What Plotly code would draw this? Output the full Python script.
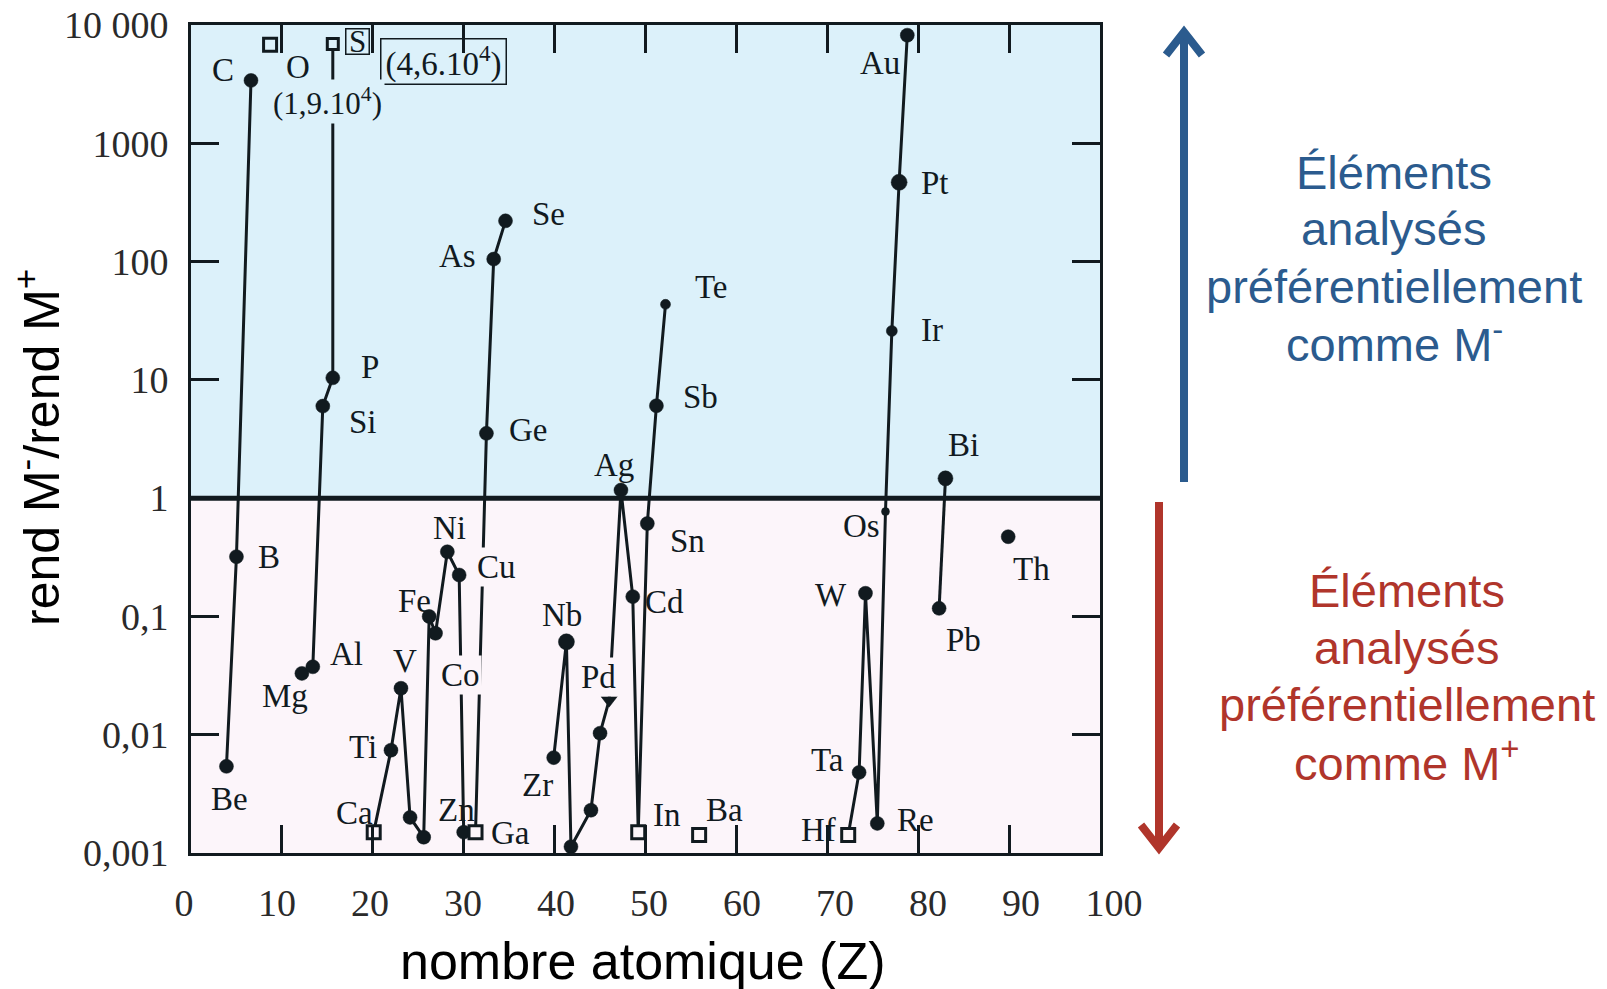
import numpy as np
import plotly.graph_objects as go

# ------------------------------------------------------------------
# DATA  (Z as plotted, ratio = rend M- / rend M+)
# ------------------------------------------------------------------
light_el = ["Be", "B", "C"]
light_z = [3.9, 5.0, 6.6]
light_ratio = [0.0054, 0.32, 3400]

oxygen_el = ["O"]
oxygen_z = [8.7]
oxygen_ratio = [6800]

p3_el = ["Mg", "Al", "Si", "P", "S"]
p3_z = [12.2, 13.4, 14.5, 15.6, 15.6]
p3_ratio = [0.033, 0.0375, 6.0, 10.4, 6900]

p4_el = ["Ca", "Ti", "V", "Cr", "Mn", "Fe", "Co", "Ni", "Cu", "Zn", "Ga", "Ge", "As", "Se"]
p4_z = [20.1, 22.0, 23.1, 24.1, 25.6, 26.2, 26.9, 28.2, 29.5, 30.0, 31.3, 32.5, 33.3, 34.6]
p4_ratio = [0.0015, 0.0074, 0.0247, 0.0020, 0.00136, 0.100, 0.072, 0.352, 0.224,
            0.0015, 0.0015, 3.53, 105, 221]

p5_el = ["Zr", "Nb", "Mo", "Ru", "Rh", "Pd", "Ag", "Cd", "In", "Sn", "Sb", "Te"]
p5_z = [39.9, 41.3, 41.8, 44.0, 45.0, 46.0, 47.3, 48.6, 49.2, 50.2, 51.2, 52.2]
p5_ratio = [0.0064, 0.061, 0.00113, 0.0023, 0.0103, 0.0196, 1.17, 0.147, 0.0015,
            0.61, 6.04, 43.5]

barium_el = ["Ba"]
barium_z = [55.9]
barium_ratio = [0.00142]

p6_el = ["Hf", "Ta", "W", "Re", "Os", "Ir", "Pt", "Au"]
p6_z = [72.3, 73.5, 74.2, 75.5, 76.4, 77.1, 77.9, 78.8]
p6_ratio = [0.00142, 0.0048, 0.157, 0.00178, 0.77, 25.9, 468, 8200]

pb_el = ["Pb", "Bi"]
pb_z = [82.3, 83.0]
pb_ratio = [0.117, 1.47]

th_el = ["Th"]
th_z = [89.9]
th_ratio = [0.472]

limit_el = {"O", "S", "Ca", "Ga", "In", "Ba", "Hf"}   # open squares
flag_el = {"Pd"}
unlabelled_el = {"Cr", "Mn", "Mo", "Ru", "Rh"}

x_tickvals = [0, 10, 20, 30, 40, 50, 60, 70, 80, 90, 100]
y_tickvals = [0.001, 0.01, 0.1, 1, 10, 100, 1000, 10000]
y_ticktext = ["0,001", "0,01", "0,1", "1", "10", "100", "1000", "10 000"]

offscale_O = "(1,9.10<sup>4</sup>)"
offscale_S = "(4,6.10<sup>4</sup>)"

# ------------------------------------------------------------------
# STYLE
# ------------------------------------------------------------------
W, H = 1607, 989
PL, PR, PT, PB = 191, 1100, 25, 853       # plot area in px
INK = "#111a1f"
BLUE_BG = "#dcf1fa"
PINK_BG = "#fcf5fa"
BLUE = "#2b5b8e"
RED = "#b0352b"
SERIF = "Liberation Serif"
SANS = "Liberation Sans"
LABEL_SIZE = 33

size_override = {"Te": 10, "Os": 8, "Ir": 11, "Pt": 16, "Nb": 16, "Bi": 15}

# label offsets in px (dx right, dy up)
label_off = {
    "Be": (3, -33), "B": (33, 0), "C": (-28, 10), "O": (28, -22),
    "Mg": (-17, -23), "Al": (34, 13), "Si": (40, -16), "P": (37, 11),
    "Ca": (-19, 19), "Ti": (-28, 3), "V": (4, 27), "Fe": (-15, 15),
    "Co": (25, -42), "Ni": (2, 24), "Cu": (37, 8), "Zn": (-7, 22),
    "Ga": (35, -1), "Ge": (42, 3), "As": (-36, 3), "Se": (43, 7),
    "Zr": (-16, -27), "Nb": (-4, 27), "Pd": (-11, 23), "Ag": (-7, 25),
    "Cd": (32, -5), "In": (29, 17), "Sn": (40, -17), "Sb": (44, 9),
    "Te": (46, 17), "Ba": (25, 25), "Hf": (-30, 5), "Ta": (-32, 12),
    "W": (-34, -2), "Re": (38, 3), "Os": (-24, -14), "Ir": (40, 1),
    "Pt": (36, -1), "Au": (-27, -28), "Pb": (24, -32), "Bi": (18, 33),
    "Th": (23, -32),
}
masking_labels = {"Co", "Cu", "Pd"}


def px(x):
    return x / W


def py(y):
    return 1 - y / H


groups = [
    (light_el, light_z, light_ratio, "lines+markers"),
    (oxygen_el, oxygen_z, oxygen_ratio, "markers"),
    (p3_el, p3_z, p3_ratio, "lines+markers"),
    (p4_el, p4_z, p4_ratio, "lines+markers"),
    (p5_el, p5_z, p5_ratio, "lines+markers"),
    (barium_el, barium_z, barium_ratio, "markers"),
    (p6_el, p6_z, p6_ratio, "lines+markers"),
    (pb_el, pb_z, pb_ratio, "lines+markers"),
    (th_el, th_z, th_ratio, "markers"),
]

fig = go.Figure()

annotations = []
for els, zs, rs, mode in groups:
    symbols, sizes, colors, lws = [], [], [], []
    for e, r in zip(els, rs):
        if e in limit_el:
            symbols.append("square")
            sizes.append(13 if e != "S" else 11)
            colors.append(BLUE_BG if r > 1 else PINK_BG)
            lws.append(3)
        elif e in flag_el:
            symbols.append("triangle-down")
            sizes.append(14)
            colors.append(INK)
            lws.append(0.5)
        else:
            symbols.append("circle")
            sizes.append(size_override.get(e, 14))
            colors.append(INK)
            lws.append(0.5)
    fig.add_trace(go.Scatter(
        x=zs, y=rs, mode=mode, text=els, showlegend=False,
        line=dict(color=INK, width=3),
        marker=dict(symbol=symbols, size=sizes, color=colors, opacity=1,
                    line=dict(color=INK, width=lws)),
        hovertemplate="%{text}: Z=%{x}, %{y}<extra></extra>",
    ))
    for e, z, r in zip(els, zs, rs):
        if e in unlabelled_el or e not in label_off:
            continue
        dx, dy = label_off[e]
        ann = dict(x=z, y=float(np.log10(r)), xref="x", yref="y", text=e,
                   showarrow=False, xshift=dx, yshift=dy,
                   xanchor="center", yanchor="middle",
                   font=dict(family=SERIF, size=LABEL_SIZE, color=INK))
        if e in masking_labels:
            ann.update(bgcolor=PINK_BG if r < 1 else BLUE_BG, borderpad=1)
        annotations.append(ann)

# S label in box, plus off-scale values
annotations.append(dict(x=p3_z[-1], y=float(np.log10(p3_ratio[-1])), xref="x", yref="y",
                        text="S", showarrow=False, xshift=25, yshift=3,
                        xanchor="center", yanchor="middle",
                        width=22, height=24, borderpad=0,
                        bordercolor=INK, borderwidth=1.5,
                        font=dict(family=SERIF, size=31, color=INK)))
annotations.append(dict(x=p3_z[-1], y=float(np.log10(p3_ratio[-1])), xref="x", yref="y",
                        text=offscale_S, showarrow=False, xshift=111, yshift=-17,
                        xanchor="center", yanchor="middle",
                        width=124, height=44, borderpad=0,
                        bordercolor=INK, borderwidth=1.5,
                        font=dict(family=SERIF, size=33, color=INK)))
annotations.append(dict(x=oxygen_z[0], y=float(np.log10(oxygen_ratio[0])), xref="x", yref="y",
                        text=offscale_O, showarrow=False, xshift=57, yshift=-57,
                        xanchor="center", yanchor="middle",
                        bgcolor=BLUE_BG, borderpad=2,
                        font=dict(family=SERIF, size=31, color=INK)))

# dummy trace for the label axis
fig.add_trace(go.Scatter(x=[50], y=[1], xaxis="x2", yaxis="y", mode="markers",
                         marker=dict(opacity=0), showlegend=False, hoverinfo="skip"))

# axis titles
annotations.append(dict(x=px(38), y=py(448), xref="paper", yref="paper",
                        xanchor="center", yanchor="middle",
                        text="rend M<sup>-</sup>/rend M<sup>+</sup>", textangle=-90,
                        showarrow=False, font=dict(family=SANS, size=50, color="black")))
annotations.append(dict(x=px(643), y=py(961), xref="paper", yref="paper",
                        xanchor="center", yanchor="middle",
                        text="nombre atomique (Z)",
                        showarrow=False, font=dict(family=SANS, size=52, color="black")))

# right side texts
blue_lines = ["Éléments", "analysés", "préférentiellement", "comme M<sup>-</sup>"]
blue_y = [172, 228, 286, 341]
red_lines = ["Éléments", "analysés", "préférentiellement", "comme M<sup>+</sup>"]
red_y = [590, 647, 704, 760]
for t, yy in zip(blue_lines, blue_y):
    annotations.append(dict(x=px(1394), y=py(yy), xref="paper", yref="paper", text=t,
                            xanchor="center", yanchor="middle",
                            showarrow=False, font=dict(family=SANS, size=47, color=BLUE)))
for t, yy in zip(red_lines, red_y):
    annotations.append(dict(x=px(1407), y=py(yy), xref="paper", yref="paper", text=t,
                            xanchor="center", yanchor="middle",
                            showarrow=False, font=dict(family=SANS, size=47, color=RED)))

split = (0 - np.log10(y_tickvals[0])) / (np.log10(y_tickvals[-1]) - np.log10(y_tickvals[0]))

shapes = [
    dict(type="rect", xref="x domain", yref="y domain", x0=0, x1=1, y0=0, y1=split,
         fillcolor=PINK_BG, line=dict(width=0), layer="below"),
    dict(type="rect", xref="x domain", yref="y domain", x0=0, x1=1, y0=split, y1=1,
         fillcolor=BLUE_BG, line=dict(width=0), layer="below"),
    dict(type="line", xref="x domain", yref="y domain", x0=0, x1=1, y0=split, y1=split,
         line=dict(color=INK, width=5), layer="above"),
    # blue arrow
    dict(type="line", xref="paper", yref="paper", x0=px(1184), x1=px(1184),
         y0=py(482), y1=py(34), line=dict(color=BLUE, width=8)),
    dict(type="path", xref="paper", yref="paper",
         path=f"M {px(1166)},{py(55)} L {px(1184)},{py(32)} L {px(1202)},{py(55)}",
         line=dict(color=BLUE, width=8)),
    # red arrow
    dict(type="line", xref="paper", yref="paper", x0=px(1159), x1=px(1159),
         y0=py(502), y1=py(846), line=dict(color=RED, width=8)),
    dict(type="path", xref="paper", yref="paper",
         path=f"M {px(1141)},{py(825)} L {px(1159)},{py(848)} L {px(1177)},{py(825)}",
         line=dict(color=RED, width=8)),
]

fig.update_layout(
    width=W, height=H,
    margin=dict(l=0, r=0, t=0, b=0, pad=0, autoexpand=False),
    paper_bgcolor="white", plot_bgcolor="rgba(0,0,0,0)",
    showlegend=False,
    xaxis=dict(domain=[PL / W, PR / W], range=[0, 100], showgrid=False, zeroline=False,
               tickvals=x_tickvals[1:-1], showticklabels=False, automargin=False,
               ticks="inside", ticklen=28, tickwidth=2.5, tickcolor=INK,
               showline=True, linewidth=3, linecolor=INK, mirror="ticks"),
    xaxis2=dict(domain=[184 / W, 1114 / W], range=[0, 100], anchor="y", automargin=False,
                showgrid=False, zeroline=False, showline=False, ticks="",
                tickvals=x_tickvals, ticktext=[str(v) for v in x_tickvals],
                ticklabelstandoff=24,
                tickfont=dict(family=SERIF, size=38, color="#2a2a2a")),
    yaxis=dict(domain=[1 - PB / H, 1 - PT / H], type="log", range=[-3, 4],
               showgrid=False, zeroline=False, automargin=False,
               tickvals=y_tickvals, ticktext=y_ticktext,
               ticks="inside", ticklen=28, tickwidth=2.5, tickcolor=INK,
               ticklabelstandoff=12,
               tickfont=dict(family=SERIF, size=38, color="#2a2a2a"),
               showline=True, linewidth=3, linecolor=INK, mirror="ticks"),
    annotations=annotations,
    shapes=shapes,
)

fig.write_html("out.html")
